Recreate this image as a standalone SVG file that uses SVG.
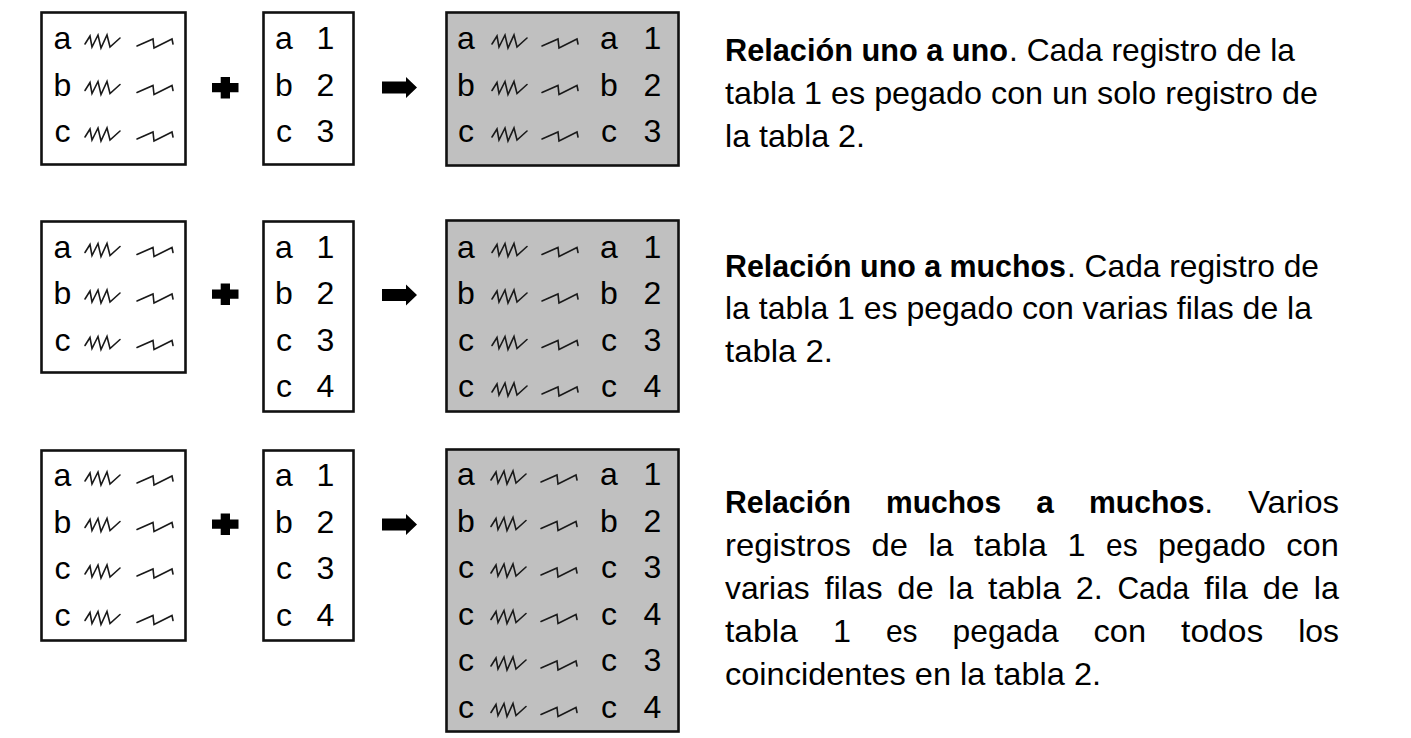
<svg xmlns="http://www.w3.org/2000/svg" xmlns:xlink="http://www.w3.org/1999/xlink" width="1411" height="738" viewBox="0 0 1411 738">
<style>
.box{fill:#ffffff;stroke:#111111;stroke-width:2.6}
.res{fill:#c0c0c0;stroke:#111111;stroke-width:2.6}
.ch{font-family:"Liberation Sans",Arial,sans-serif;font-size:32px;fill:#000000;text-anchor:middle}
.t{font-family:"Liberation Sans",Arial,sans-serif;font-size:32px;fill:#000000}
.b{font-weight:bold}
.op{fill:#000000}
.sq{fill:none;stroke:#1a1a1a;stroke-width:1.6;stroke-linejoin:miter;stroke-linecap:round}
</style>
<defs>
<path id="s1" class="sq" d="M0,11 L5,3 L7,14 L13,2 L16,15 L22,2 L25,14 L35,5"/>
<path id="s2" class="sq" d="M0,9 L16,2 L17,11 L35,2 L36,7"/>
</defs>
<rect width="1411" height="738" fill="#ffffff"/>

<!-- ROW 1 -->
<g id="r1-t1">
<rect class="box" x="41.5" y="12.5" width="144" height="152"/>
<text class="ch" x="62.5" y="49">a</text><use href="#s1" x="85" y="33"/><use href="#s2" x="137" y="37"/>
<text class="ch" x="62.5" y="95.5">b</text><use href="#s1" x="85" y="79.5"/><use href="#s2" x="137" y="83.5"/>
<text class="ch" x="62.5" y="142">c</text><use href="#s1" x="85" y="126"/><use href="#s2" x="137" y="130"/>
</g>
<g id="r1-t2">
<rect class="box" x="263.5" y="12.5" width="90" height="152"/>
<text class="ch" x="284" y="49">a</text><text class="ch" x="325.5" y="49">1</text>
<text class="ch" x="284" y="95.5">b</text><text class="ch" x="325.5" y="95.5">2</text>
<text class="ch" x="284" y="142">c</text><text class="ch" x="325.5" y="142">3</text>
</g>
<g id="r1-res">
<rect class="res" x="446.5" y="12.5" width="232" height="153"/>
<text class="ch" x="466" y="49">a</text><use href="#s1" x="492" y="33"/><use href="#s2" x="542" y="37"/><text class="ch" x="609" y="49">a</text><text class="ch" x="652.5" y="49">1</text>
<text class="ch" x="466" y="95.5">b</text><use href="#s1" x="492" y="79.5"/><use href="#s2" x="542" y="83.5"/><text class="ch" x="609" y="95.5">b</text><text class="ch" x="652.5" y="95.5">2</text>
<text class="ch" x="466" y="142">c</text><use href="#s1" x="492" y="126"/><use href="#s2" x="542" y="130"/><text class="ch" x="609" y="142">c</text><text class="ch" x="652.5" y="142">3</text>
</g>
<g id="r1-desc">
<text class="t b" x="725" y="61" textLength="283" lengthAdjust="spacingAndGlyphs">Relación uno a uno</text>
<text class="t" x="1009" y="61" textLength="286" lengthAdjust="spacingAndGlyphs">. Cada registro de la</text>
<text class="t" x="725" y="104" textLength="593" lengthAdjust="spacingAndGlyphs">tabla 1 es pegado con un solo registro de</text>
<text class="t" x="725" y="147" textLength="140" lengthAdjust="spacingAndGlyphs">la tabla 2.</text>
</g>

<!-- ROW 2 -->
<g id="r2-t1">
<rect class="box" x="41.5" y="221.5" width="144" height="151"/>
<text class="ch" x="62.5" y="257.5">a</text><use href="#s1" x="85" y="241.5"/><use href="#s2" x="137" y="245.5"/>
<text class="ch" x="62.5" y="304">b</text><use href="#s1" x="85" y="288"/><use href="#s2" x="137" y="292"/>
<text class="ch" x="62.5" y="350.5">c</text><use href="#s1" x="85" y="334.5"/><use href="#s2" x="137" y="338.5"/>
</g>
<g id="r2-t2">
<rect class="box" x="263.5" y="221.5" width="90" height="190"/>
<text class="ch" x="284" y="257.5">a</text><text class="ch" x="325.5" y="257.5">1</text>
<text class="ch" x="284" y="304">b</text><text class="ch" x="325.5" y="304">2</text>
<text class="ch" x="284" y="350.5">c</text><text class="ch" x="325.5" y="350.5">3</text>
<text class="ch" x="284" y="397">c</text><text class="ch" x="325.5" y="397">4</text>
</g>
<g id="r2-res">
<rect class="res" x="446.5" y="220.5" width="232" height="191"/>
<text class="ch" x="466" y="257.5">a</text><use href="#s1" x="492" y="241.5"/><use href="#s2" x="542" y="245.5"/><text class="ch" x="609" y="257.5">a</text><text class="ch" x="652.5" y="257.5">1</text>
<text class="ch" x="466" y="304">b</text><use href="#s1" x="492" y="288"/><use href="#s2" x="542" y="292"/><text class="ch" x="609" y="304">b</text><text class="ch" x="652.5" y="304">2</text>
<text class="ch" x="466" y="350.5">c</text><use href="#s1" x="492" y="334.5"/><use href="#s2" x="542" y="338.5"/><text class="ch" x="609" y="350.5">c</text><text class="ch" x="652.5" y="350.5">3</text>
<text class="ch" x="466" y="397">c</text><use href="#s1" x="492" y="381"/><use href="#s2" x="542" y="385"/><text class="ch" x="609" y="397">c</text><text class="ch" x="652.5" y="397">4</text>
</g>
<g id="r2-desc">
<text class="t b" x="725" y="276.5" textLength="341" lengthAdjust="spacingAndGlyphs">Relación uno a muchos</text>
<text class="t" x="1067" y="276.5" textLength="252" lengthAdjust="spacingAndGlyphs">. Cada registro de</text>
<text class="t" x="725" y="319" textLength="587" lengthAdjust="spacingAndGlyphs">la tabla 1 es pegado con varias filas de la</text>
<text class="t" x="725" y="362" textLength="108" lengthAdjust="spacingAndGlyphs">tabla 2.</text>
</g>

<!-- ROW 3 -->
<g id="r3-t1">
<rect class="box" x="41.5" y="450.5" width="144" height="190"/>
<text class="ch" x="62.5" y="486">a</text><use href="#s1" x="85" y="470"/><use href="#s2" x="137" y="474"/>
<text class="ch" x="62.5" y="532.5">b</text><use href="#s1" x="85" y="516.5"/><use href="#s2" x="137" y="520.5"/>
<text class="ch" x="62.5" y="579">c</text><use href="#s1" x="85" y="563"/><use href="#s2" x="137" y="567"/>
<text class="ch" x="62.5" y="625.5">c</text><use href="#s1" x="85" y="609.5"/><use href="#s2" x="137" y="613.5"/>
</g>
<g id="r3-t2">
<rect class="box" x="263.5" y="450.5" width="90" height="190"/>
<text class="ch" x="284" y="486">a</text><text class="ch" x="325.5" y="486">1</text>
<text class="ch" x="284" y="532.5">b</text><text class="ch" x="325.5" y="532.5">2</text>
<text class="ch" x="284" y="579">c</text><text class="ch" x="325.5" y="579">3</text>
<text class="ch" x="284" y="625.5">c</text><text class="ch" x="325.5" y="625.5">4</text>
</g>
<g id="r3-res">
<rect class="res" x="446.5" y="449.5" width="232" height="282"/>
<text class="ch" x="466" y="485">a</text><use href="#s1" x="491" y="469"/><use href="#s2" x="541" y="473"/><text class="ch" x="609" y="485">a</text><text class="ch" x="652.5" y="485">1</text>
<text class="ch" x="466" y="531.5">b</text><use href="#s1" x="491" y="515.5"/><use href="#s2" x="541" y="519.5"/><text class="ch" x="609" y="531.5">b</text><text class="ch" x="652.5" y="531.5">2</text>
<text class="ch" x="466" y="578">c</text><use href="#s1" x="491" y="562"/><use href="#s2" x="541" y="566"/><text class="ch" x="609" y="578">c</text><text class="ch" x="652.5" y="578">3</text>
<text class="ch" x="466" y="624.5">c</text><use href="#s1" x="491" y="608.5"/><use href="#s2" x="541" y="612.5"/><text class="ch" x="609" y="624.5">c</text><text class="ch" x="652.5" y="624.5">4</text>
<text class="ch" x="466" y="671">c</text><use href="#s1" x="491" y="655"/><use href="#s2" x="541" y="659"/><text class="ch" x="609" y="671">c</text><text class="ch" x="652.5" y="671">3</text>
<text class="ch" x="466" y="717.5">c</text><use href="#s1" x="491" y="701.5"/><use href="#s2" x="541" y="705.5"/><text class="ch" x="609" y="717.5">c</text><text class="ch" x="652.5" y="717.5">4</text>
</g>
<g id="r3-desc">
<text class="t b" x="725" y="513" textLength="126" lengthAdjust="spacingAndGlyphs">Relación</text>
<text class="t b" x="886.1" y="513" textLength="115" lengthAdjust="spacingAndGlyphs">muchos</text>
<text class="t b" x="1036.2" y="513" textLength="17.6" lengthAdjust="spacingAndGlyphs">a</text>
<text class="t" x="1088.9" y="513" textLength="124" lengthAdjust="spacingAndGlyphs"><tspan class="b">muchos</tspan>.</text>
<text class="t" x="1248" y="513" textLength="91" lengthAdjust="spacingAndGlyphs">Varios</text>

<text class="t" x="725" y="556" textLength="126" lengthAdjust="spacingAndGlyphs">registros</text>
<text class="t" x="871.5" y="556" textLength="36.4" lengthAdjust="spacingAndGlyphs">de</text>
<text class="t" x="928.4" y="556" textLength="25.2" lengthAdjust="spacingAndGlyphs">la</text>
<text class="t" x="974.1" y="556" textLength="72.9" lengthAdjust="spacingAndGlyphs">tabla</text>
<text class="t" x="1067.5" y="556" textLength="18" lengthAdjust="spacingAndGlyphs">1</text>
<text class="t" x="1106" y="556" textLength="31.6" lengthAdjust="spacingAndGlyphs">es</text>
<text class="t" x="1158.1" y="556" textLength="107.7" lengthAdjust="spacingAndGlyphs">pegado</text>
<text class="t" x="1286.3" y="556" textLength="52.5" lengthAdjust="spacingAndGlyphs">con</text>

<text class="t" x="725" y="599" textLength="84.7" lengthAdjust="spacingAndGlyphs">varias</text>
<text class="t" x="824.4" y="599" textLength="58.1" lengthAdjust="spacingAndGlyphs">filas</text>
<text class="t" x="897.2" y="599" textLength="36.4" lengthAdjust="spacingAndGlyphs">de</text>
<text class="t" x="948.2" y="599" textLength="25.2" lengthAdjust="spacingAndGlyphs">la</text>
<text class="t" x="988.1" y="599" textLength="72.9" lengthAdjust="spacingAndGlyphs">tabla</text>
<text class="t" x="1075.7" y="599" textLength="27" lengthAdjust="spacingAndGlyphs">2.</text>
<text class="t" x="1117.4" y="599" textLength="71.8" lengthAdjust="spacingAndGlyphs">Cada</text>
<text class="t" x="1203.9" y="599" textLength="44.2" lengthAdjust="spacingAndGlyphs">fila</text>
<text class="t" x="1262.7" y="599" textLength="36.4" lengthAdjust="spacingAndGlyphs">de</text>
<text class="t" x="1313.8" y="599" textLength="25.2" lengthAdjust="spacingAndGlyphs">la</text>

<text class="t" x="725" y="642" textLength="72.9" lengthAdjust="spacingAndGlyphs">tabla</text>
<text class="t" x="832.9" y="642" textLength="18" lengthAdjust="spacingAndGlyphs">1</text>
<text class="t" x="885.9" y="642" textLength="31.6" lengthAdjust="spacingAndGlyphs">es</text>
<text class="t" x="952.6" y="642" textLength="106" lengthAdjust="spacingAndGlyphs">pegada</text>
<text class="t" x="1093.6" y="642" textLength="52.5" lengthAdjust="spacingAndGlyphs">con</text>
<text class="t" x="1181.1" y="642" textLength="82.1" lengthAdjust="spacingAndGlyphs">todos</text>
<text class="t" x="1298.2" y="642" textLength="40.8" lengthAdjust="spacingAndGlyphs">los</text>

<text class="t" x="725" y="685" textLength="376" lengthAdjust="spacingAndGlyphs">coincidentes en la tabla 2.</text>
</g>

<g id="connectors">
<path class="op" d="M212,83 H220.7 V77 H230 V83 H238.5 V92.3 H230 V98.5 H220.7 V92.3 H212 Z"/>
<polygon class="op" points="382,81.5 406,81.5 406,77 417,87.5 406,98 406,93.5 382,93.5"/>
<path class="op" d="M212,289.5 H220.7 V283.5 H230 V289.5 H238.5 V298.8 H230 V305 H220.7 V298.8 H212 Z"/>
<polygon class="op" points="382,289 406,289 406,284.5 417,295 406,305.5 406,301 382,301"/>
<path class="op" d="M212,519.5 H220.7 V513.5 H230 V519.5 H238.5 V528.8 H230 V535 H220.7 V528.8 H212 Z"/>
<polygon class="op" points="382,518.5 406,518.5 406,514 417,524.5 406,535 406,530.5 382,530.5"/>
</g>
</svg>
